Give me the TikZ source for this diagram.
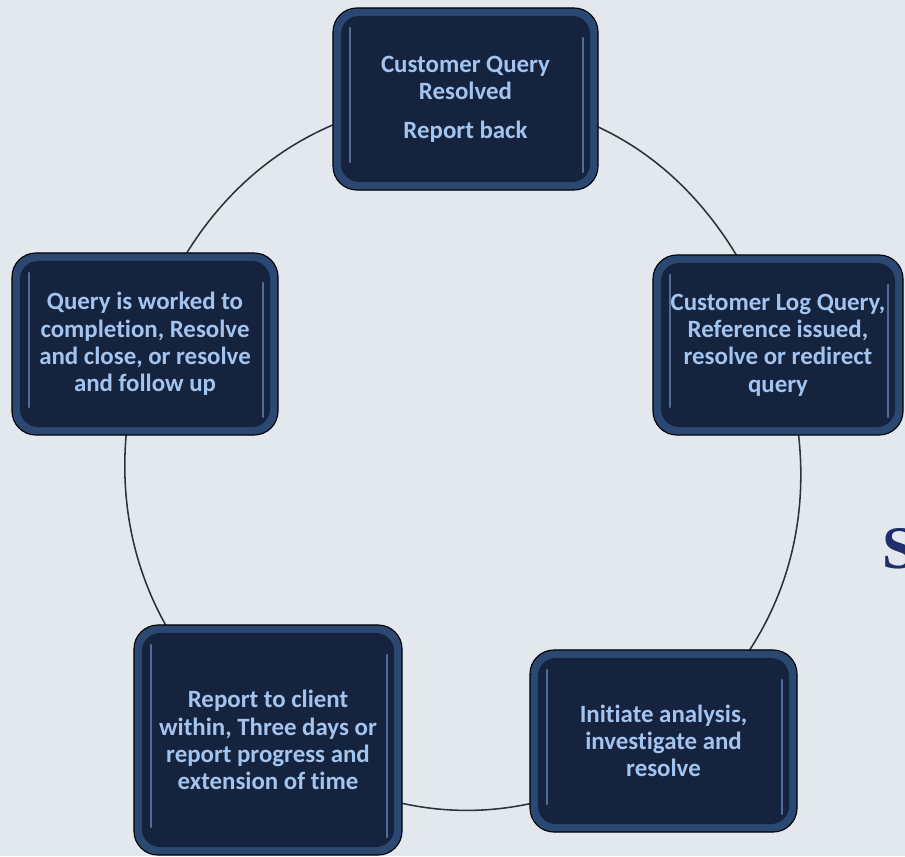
\documentclass[tikz,border=0pt]{standalone}
\usepackage{fontspec}
\usetikzlibrary{backgrounds}
\newfontfamily\stagefont[Ligatures=NoCommon]{Carlito}
\newfontfamily\sidefont{Liberation Serif}
\definecolor{paper}{HTML}{E3E8EE}
\definecolor{navy}{HTML}{16233F}
\definecolor{rim}{HTML}{2B4872}
\definecolor{glint}{HTML}{7A9FD2}
\definecolor{qtext}{HTML}{A3C4EE}
\definecolor{ringcol}{HTML}{2A3240}
\definecolor{sideblue}{HTML}{1F2F6B}

\begin{document}
\begin{tikzpicture}[x=0.025cm, y=0.025cm,
	stage/.style={draw=black, line width=0.8pt, fill=rim, rounded corners=0.6cm,
		text=qtext, align=center, inner sep=0pt,
		font=\stagefont\bfseries\fontsize{17.7}{19.4}\selectfont,
		minimum width=6.65cm, minimum height=4.55cm,
		path picture={
			\fill[navy, rounded corners=0.45cm]
				([shift={(0.2cm,-0.2cm)}]path picture bounding box.north west)
				rectangle ([shift={(-0.2cm,0.2cm)}]path picture bounding box.south east);
			\draw[glint, opacity=0.6, line width=1.6pt, line cap=round]
				([shift={(0.42cm,-0.5cm)}]path picture bounding box.north west)
				-- ([shift={(0.42cm,0.7cm)}]path picture bounding box.south west);
			\draw[glint, opacity=0.6, line width=1.6pt, line cap=round]
				([shift={(-0.38cm,-0.75cm)}]path picture bounding box.north east)
				-- ([shift={(-0.38cm,0.45cm)}]path picture bounding box.south east);
		}},
	cycleline/.style={draw=ringcol, line width=1.1pt}]

				\useasboundingbox (0,0) rectangle (905,-856);

				\node[stage, minimum width=6.625cm] (resolved) at (465.5,-99)
				{Customer Query\\Resolved\\[8pt]Report back};

				\node[stage, minimum width=6.25cm, minimum height=4.5cm] (logged) at (778,-345)
				{Customer Log Query,\\Reference issued,\\resolve or redirect\\query};

				\node[stage, minimum width=6.675cm] (analysis) at (663.5,-741)
				{Initiate analysis,\\investigate and\\resolve};

				\node[stage, minimum width=6.7cm, minimum height=5.75cm] (report) at (268,-740)
				{Report to client\\within, Three days or\\report progress and\\extension of time};

				\node[stage] (worked) at (145,-344)
				{Query is worked to\\completion, Resolve\\and close, or resolve\\and follow up};

				\node[anchor=base west, inner sep=0pt, text=sideblue,
					font=\sidefont\bfseries\fontsize{43}{43}\selectfont] (cut) at (882,-568) {S};

				\begin{scope}[on background layer]
				\fill[paper] (0,0) rectangle (905,-856);
				\draw[cycleline] (resolved.center) to[out=0, in=109] (logged.center);
				\draw[cycleline] (logged.center) to[out=-71, in=37] (analysis.center);
				\draw[cycleline] (analysis.center) to[out=-143, in=-37] (report.center);
				\draw[cycleline] (report.center) to[out=143, in=-108] (worked.center);
				\draw[cycleline] (worked.center) to[out=72, in=180] (resolved.center);
				\end{scope}

\end{tikzpicture}
\end{document}
